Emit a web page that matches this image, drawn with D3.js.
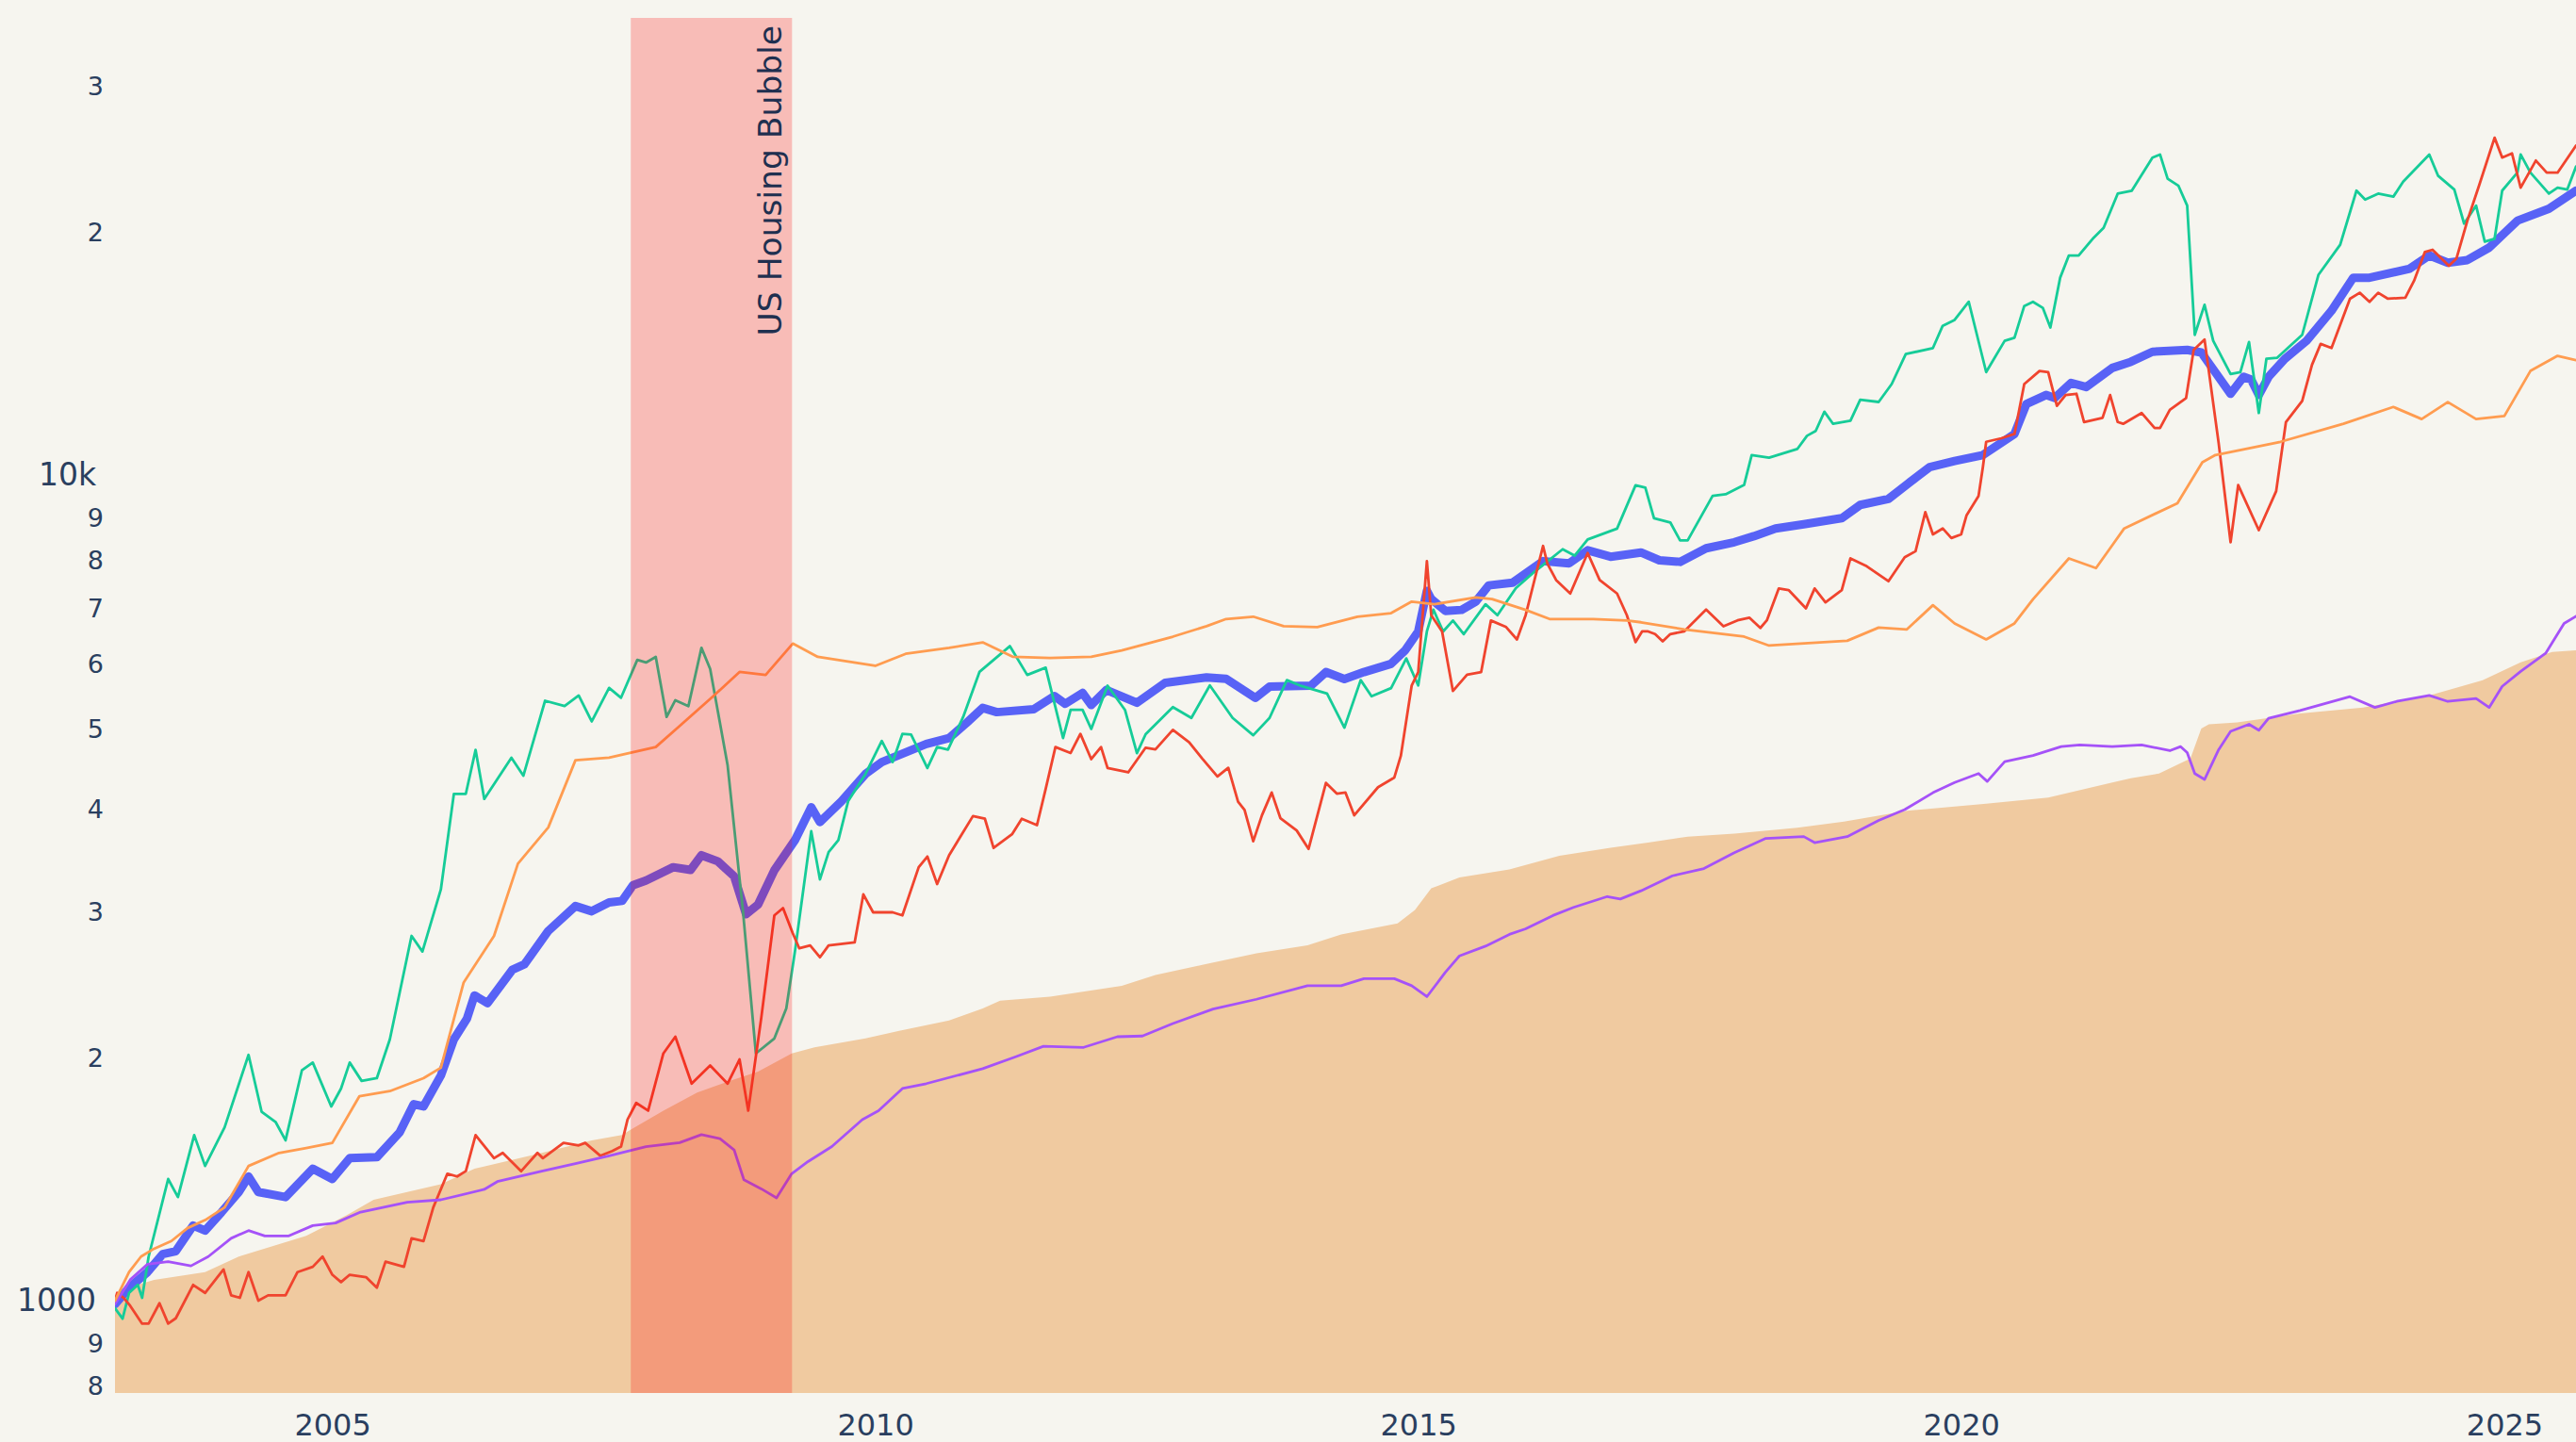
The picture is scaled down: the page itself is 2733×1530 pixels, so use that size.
<!DOCTYPE html>
<html>
<head>
<meta charset="utf-8">
<script src="https://cdn.jsdelivr.net/npm/d3@7"></script>
<style>
  html, body { margin: 0; padding: 0; background: #F6F5EF; }
  svg { display: block; }
  text { font-family: "DejaVu Sans", Verdana, sans-serif; fill: #2a3f5f; }
</style>
</head>
<body>
<svg id="chart" width="2733" height="1530"></svg>
<script>
// ---------------- DATA (decimal years, values) ----------------
const xTickYears = [2005, 2010, 2015, 2020, 2025];
const yTickValues = [800, 900, 1000, 2000, 3000, 4000, 5000, 6000, 7000, 8000, 9000, 10000, 20000, 30000];
const yTickLabels = ["8", "9", "1000", "2", "3", "4", "5", "6", "7", "8", "9", "10k", "2", "3"];

const bandStart = 2007.75, bandEnd = 2009.233;
const bandLabel = "US Housing Bubble";

const areaYears = [2003.0,2003.15,2003.36,2003.83,2004.14,2004.76,2005.13,2005.38,2006.0,2006.31,2006.93,2007.39,2007.67,2007.74,2008.05,2008.36,2008.67,2008.92,2009.23,2009.44,2009.91,2010.22,2010.68,2010.99,2011.15,2011.61,2012.27,2012.58,2013.05,2013.51,2013.98,2014.29,2014.81,2014.97,2015.12,2015.38,2015.84,2016.3,2016.77,2017.13,2017.48,2017.91,2018.49,2018.92,2019.5,2020.23,2020.8,2021.39,2021.56,2021.82,2022.11,2022.21,2022.28,2022.54,2023.12,2023.7,2024.27,2024.8,2025.15,2025.44,2025.66];
const areaValues = [985,1040,1060,1083,1131,1198,1269,1325,1384,1445,1510,1564,1587,1608,1699,1787,1848,1895,1993,2027,2078,2123,2185,2259,2309,2335,2407,2481,2558,2635,2695,2778,2864,2973,3158,3255,3330,3458,3537,3590,3649,3680,3741,3804,3921,4000,4069,4243,4293,4351,4536,4934,4991,5017,5144,5231,5391,5642,5934,6105,6134];

const blueYears = [2003.0,2003.13,2003.3,2003.44,2003.56,2003.72,2003.83,2003.98,2004.14,2004.23,2004.32,2004.57,2004.82,2005.0,2005.16,2005.41,2005.62,2005.75,2005.84,2006.0,2006.12,2006.24,2006.31,2006.43,2006.66,2006.77,2006.99,2007.24,2007.39,2007.55,2007.67,2007.77,2007.89,2008.14,2008.3,2008.4,2008.55,2008.7,2008.81,2008.92,2009.07,2009.26,2009.41,2009.49,2009.69,2009.91,2010.06,2010.47,2010.68,2010.84,2010.99,2011.12,2011.46,2011.65,2011.75,2011.91,2011.99,2012.13,2012.27,2012.41,2012.67,2013.05,2013.23,2013.5,2013.63,2014.01,2014.15,2014.32,2014.5,2014.75,2014.88,2015.0,2015.08,2015.12,2015.25,2015.4,2015.53,2015.65,2015.87,2016.15,2016.39,2016.56,2016.77,2017.05,2017.22,2017.41,2017.65,2017.91,2018.09,2018.29,2018.55,2018.9,2019.07,2019.33,2019.53,2019.71,2019.94,2020.2,2020.49,2020.6,2020.78,2020.86,2021.01,2021.15,2021.39,2021.56,2021.76,2022.08,2022.21,2022.48,2022.6,2022.67,2022.74,2022.83,2022.98,2023.18,2023.41,2023.61,2023.76,2024.13,2024.31,2024.48,2024.66,2024.86,2025.12,2025.41,2025.66];
const blueValues = [990,1037,1083,1139,1148,1233,1216,1279,1354,1414,1354,1335,1445,1404,1488,1492,1599,1730,1719,1874,2073,2196,2343,2293,2518,2555,2805,3006,2963,3037,3050,3186,3228,3350,3325,3464,3406,3267,2939,3019,3322,3613,3961,3800,4028,4345,4492,4724,4804,5009,5224,5163,5206,5401,5285,5447,5267,5493,5396,5300,5604,5689,5667,5373,5543,5558,5774,5663,5774,5908,6134,6467,7242,7079,6848,6867,7028,7353,7409,7868,7820,8110,7965,8060,7886,7852,8155,8294,8435,8619,8721,8869,9203,9358,9811,10228,10402,10576,11218,12199,12506,12402,12936,12785,13487,13716,14109,14183,14080,12549,13155,13052,12506,13155,13833,14546,15819,17346,17346,17788,18455,18087,18220,18863,20336,21027,22113];

const greenYears = [2003.0,2003.07,2003.13,2003.21,2003.25,2003.31,2003.49,2003.58,2003.73,2003.83,2004.01,2004.23,2004.35,2004.48,2004.57,2004.72,2004.82,2004.99,2005.08,2005.16,2005.27,2005.41,2005.53,2005.73,2005.83,2006.0,2006.12,2006.23,2006.32,2006.4,2006.65,2006.76,2006.96,2007.14,2007.27,2007.39,2007.55,2007.66,2007.81,2007.89,2007.98,2008.08,2008.16,2008.28,2008.4,2008.48,2008.64,2008.78,2008.9,2009.07,2009.18,2009.26,2009.41,2009.49,2009.57,2009.66,2009.75,2009.91,2010.06,2010.16,2010.25,2010.33,2010.48,2010.57,2010.67,2010.81,2010.96,2011.24,2011.4,2011.57,2011.73,2011.8,2011.91,2011.99,2012.14,2012.3,2012.41,2012.49,2012.74,2012.91,2013.08,2013.29,2013.48,2013.63,2013.79,2013.91,2014.16,2014.32,2014.47,2014.57,2014.75,2014.89,2015.0,2015.08,2015.14,2015.23,2015.32,2015.42,2015.62,2015.73,2015.9,2016.07,2016.33,2016.44,2016.56,2016.83,2017.0,2017.09,2017.17,2017.32,2017.41,2017.48,2017.71,2017.83,2018.0,2018.07,2018.23,2018.49,2018.58,2018.66,2018.74,2018.82,2018.98,2019.07,2019.24,2019.36,2019.49,2019.74,2019.83,2019.94,2020.07,2020.23,2020.4,2020.49,2020.58,2020.66,2020.75,2020.82,2020.91,2020.99,2021.08,2021.21,2021.31,2021.44,2021.57,2021.76,2021.83,2021.9,2022.0,2022.08,2022.15,2022.24,2022.32,2022.48,2022.57,2022.65,2022.74,2022.81,2022.91,2023.14,2023.29,2023.49,2023.64,2023.72,2023.84,2023.98,2024.07,2024.31,2024.39,2024.54,2024.63,2024.74,2024.82,2024.91,2024.98,2025.12,2025.15,2025.24,2025.41,2025.49,2025.58,2025.66];
const greenValues = [979,951,1022,1045,1008,1131,1404,1335,1587,1456,1622,1985,1694,1645,1564,1901,1943,1719,1807,1943,1846,1860,2073,2766,2648,3149,4111,4111,4647,4053,4547,4324,5330,5253,5408,5031,5525,5375,5974,5930,6024,5095,5338,5250,6177,5825,4455,2979,1993,2078,2259,2650,3704,3239,3494,3613,4028,4345,4764,4492,4860,4850,4418,4684,4650,5095,5776,6207,5728,5846,4804,5196,5196,4927,5559,5196,4605,4855,5236,5080,5562,5080,4841,5080,5646,5562,5437,4945,5646,5396,5521,5998,5562,6467,6871,6467,6667,6419,6976,6767,7297,7635,8133,7988,8357,8615,9721,9656,8869,8765,8337,8337,9438,9480,9730,10576,10500,10755,11161,11311,11934,11539,11640,12339,12265,12892,14017,14256,15168,15421,16218,13331,14546,14667,16028,16218,15948,15095,17346,18455,18455,19337,19929,21929,22113,24250,24457,22864,22410,21207,14791,16083,14546,13261,13331,14494,11893,13833,13874,14791,17491,19019,22113,21566,21929,21746,22675,24457,23060,22183,20170,21207,19177,19337,22113,23252,24457,23252,21929,22297,22183,23646];

const redYears = [2003.0,2003.02,2003.08,2003.14,2003.25,2003.31,2003.41,2003.49,2003.56,2003.72,2003.83,2004.0,2004.07,2004.15,2004.23,2004.32,2004.41,2004.57,2004.68,2004.82,2004.91,2005.0,2005.08,2005.16,2005.31,2005.41,2005.49,2005.66,2005.73,2005.84,2005.93,2006.06,2006.15,2006.23,2006.32,2006.49,2006.57,2006.74,2006.89,2006.94,2007.13,2007.27,2007.33,2007.47,2007.58,2007.66,2007.72,2007.8,2007.91,2008.05,2008.16,2008.31,2008.48,2008.64,2008.75,2008.83,2008.95,2009.07,2009.15,2009.24,2009.3,2009.4,2009.49,2009.57,2009.81,2009.89,2009.98,2010.16,2010.25,2010.4,2010.48,2010.57,2010.68,2010.9,2011.01,2011.09,2011.26,2011.35,2011.49,2011.57,2011.66,2011.8,2011.89,2011.99,2012.08,2012.14,2012.33,2012.49,2012.58,2012.74,2012.89,2013.01,2013.15,2013.25,2013.34,2013.4,2013.48,2013.56,2013.65,2013.73,2013.88,2013.99,2014.15,2014.25,2014.33,2014.41,2014.63,2014.78,2014.84,2014.94,2015.0,2015.08,2015.12,2015.22,2015.32,2015.45,2015.58,2015.67,2015.81,2015.91,2015.99,2016.15,2016.19,2016.27,2016.4,2016.56,2016.67,2016.83,2016.92,2017.0,2017.06,2017.11,2017.18,2017.25,2017.32,2017.45,2017.65,2017.81,2017.94,2018.05,2018.15,2018.21,2018.32,2018.41,2018.57,2018.65,2018.75,2018.9,2018.98,2019.13,2019.33,2019.48,2019.58,2019.67,2019.74,2019.83,2019.91,2020.0,2020.05,2020.16,2020.2,2020.23,2020.37,2020.49,2020.58,2020.72,2020.8,2020.88,2020.96,2021.06,2021.13,2021.3,2021.37,2021.44,2021.49,2021.66,2021.78,2021.83,2021.92,2022.07,2022.14,2022.24,2022.37,2022.48,2022.55,2022.74,2022.9,2022.99,2023.14,2023.23,2023.31,2023.41,2023.58,2023.67,2023.76,2023.84,2023.93,2024.09,2024.17,2024.27,2024.34,2024.49,2024.56,2024.66,2024.77,2024.91,2024.98,2025.07,2025.15,2025.29,2025.39,2025.49,2025.66];
const redValues = [1000,1022,1008,986,938,938,993,938,952,1045,1022,1091,1015,1008,1083,1000,1015,1015,1083,1099,1131,1075,1053,1075,1068,1037,1115,1099,1190,1181,1297,1425,1414,1435,1587,1488,1510,1435,1510,1488,1553,1542,1553,1498,1518,1537,1657,1736,1699,1993,2088,1832,1927,1832,1960,1699,2203,2929,2989,2786,2672,2694,2606,2694,2716,3106,2954,2954,2929,3350,3452,3197,3464,3864,3835,3535,3673,3835,3767,4167,4684,4607,4860,4529,4684,4418,4365,4676,4654,4914,4747,4536,4315,4421,4021,3931,3602,3872,4126,3842,3712,3526,4239,4114,4126,3872,4188,4303,4571,5562,5774,7868,6767,6467,5477,5732,5774,6667,6546,6324,6767,8208,7810,7464,7188,8047,7464,7188,6767,6277,6467,6470,6419,6291,6419,6470,6874,6559,6670,6719,6530,6670,7291,7258,6898,7291,7015,7258,7928,7756,7439,7954,8088,9020,8477,8619,8390,8477,8943,9438,10228,10975,11084,11218,12892,13373,13331,12134,12506,12549,11597,11733,12506,11597,11539,11893,11405,11405,11995,12402,14183,14595,10937,8294,9730,8578,9564,11597,12298,13601,14421,14256,16357,16632,16218,16632,16357,16403,17198,18638,18750,17934,18303,20336,22483,25630,24250,24536,22297,24050,23252,23252,25076];

const orangeYears = [2003.0,2003.13,2003.24,2003.36,2003.52,2003.67,2003.83,2004.01,2004.23,2004.51,2004.76,2005.0,2005.25,2005.53,2005.84,2006.0,2006.21,2006.49,2006.71,2006.99,2007.24,2007.55,2007.76,2007.98,2008.2,2008.51,2008.75,2008.99,2009.24,2009.47,2010.0,2010.28,2010.68,2010.99,2011.27,2011.61,2011.99,2012.27,2012.74,2013.05,2013.23,2013.48,2013.76,2014.07,2014.44,2014.75,2014.94,2015.15,2015.53,2015.68,2015.99,2016.21,2016.61,2016.92,2017.05,2017.45,2018.0,2018.23,2018.95,2019.24,2019.5,2019.74,2019.94,2020.23,2020.49,2020.66,2020.99,2021.24,2021.39,2021.5,2021.99,2022.22,2022.34,2022.94,2023.52,2023.98,2024.24,2024.48,2024.74,2025.0,2025.24,2025.49,2025.66];
const orangeValues = [1000,1083,1131,1156,1181,1225,1252,1297,1456,1510,1531,1553,1769,1794,1860,1915,2429,2766,3384,3744,4515,4547,4613,4684,4968,5401,5776,5728,6252,6024,5875,6076,6177,6273,6024,6004,6024,6134,6373,6563,6695,6739,6563,6546,6739,6805,7028,6976,7112,7079,6867,6695,6695,6667,6634,6504,6374,6217,6301,6537,6504,6958,6613,6324,6613,7074,7928,7716,8226,8619,9247,10366,10576,10975,11539,12095,11695,12262,11695,11795,13373,13947,13784];

const purpleYears = [2003.0,2003.14,2003.3,2003.49,2003.7,2003.86,2004.07,2004.23,2004.38,2004.6,2004.82,2005.03,2005.25,2005.69,2006.0,2006.4,2006.52,2006.93,2007.24,2007.55,2007.89,2008.2,2008.4,2008.57,2008.7,2008.79,2008.95,2009.09,2009.23,2009.38,2009.6,2009.88,2010.03,2010.25,2010.47,2010.99,2011.3,2011.55,2011.92,2012.23,2012.46,2012.74,2013.11,2013.51,2013.98,2014.29,2014.5,2014.78,2014.94,2015.08,2015.25,2015.38,2015.62,2015.84,2015.99,2016.24,2016.43,2016.74,2016.86,2017.05,2017.34,2017.63,2017.91,2018.2,2018.55,2018.65,2018.95,2019.24,2019.48,2019.74,2019.94,2020.16,2020.24,2020.4,2020.66,2020.92,2021.09,2021.39,2021.66,2021.92,2022.02,2022.08,2022.15,2022.24,2022.37,2022.48,2022.65,2022.74,2022.83,2023.12,2023.58,2023.81,2024.01,2024.31,2024.48,2024.74,2024.86,2024.98,2025.15,2025.38,2025.55,2025.66];
const purpleValues = [990,1060,1107,1115,1102,1131,1190,1216,1198,1198,1233,1242,1279,1316,1325,1364,1394,1435,1466,1498,1537,1554,1589,1571,1523,1401,1366,1332,1425,1474,1537,1657,1699,1807,1832,1910,1976,2033,2027,2088,2092,2166,2256,2318,2407,2407,2455,2455,2407,2335,2499,2616,2688,2778,2821,2928,2995,3087,3066,3137,3271,3338,3488,3631,3649,3588,3649,3817,3934,4124,4243,4351,4256,4498,4575,4690,4713,4690,4713,4637,4690,4613,4351,4279,4650,4893,4991,4909,5076,5188,5391,5231,5320,5409,5320,5364,5231,5548,5785,6084,6613,6747];

// ---------------- LAYOUT ----------------
const W = 2733, H = 1530;
const plot = { left: 122, right: 2733, top: 19, bottom: 1478 };

function toDate(y) {
  const yr = Math.floor(y);
  const s = Date.UTC(yr, 0, 1), e = Date.UTC(yr + 1, 0, 1);
  return new Date(s + (y - yr) * (e - s));
}

const x = d3.scaleUtc().domain([toDate(2003.0), toDate(2025.66)]).range([plot.left, plot.right]);
const y = d3.scaleLog().domain([773, 35800]).range([plot.bottom, plot.top]);

const svg = d3.select("#chart");
svg.append("rect").attr("width", W).attr("height", H).attr("fill", "#F6F5EF");

svg.append("clipPath").attr("id", "clip").append("rect")
  .attr("x", plot.left).attr("y", plot.top)
  .attr("width", plot.right - plot.left).attr("height", plot.bottom - plot.top);

const g = svg.append("g").attr("clip-path", "url(#clip)");

function zip(xs, vs) { return xs.map((v, i) => ({ d: toDate(v), v: vs[i] })); }

// area
const areaGen = d3.area().x(p => x(p.d)).y0(plot.bottom).y1(p => y(p.v));
g.append("path").datum(zip(areaYears, areaValues))
  .attr("d", areaGen).attr("fill", "#F0CAA0");

const lineGen = d3.line().x(p => x(p.d)).y(p => y(p.v));
const series = [
  { xs: blueYears, vs: blueValues, color: "#5862F6", w: 9 },
  { xs: greenYears, vs: greenValues, color: "#16CC98", w: 2.8 },
  { xs: redYears, vs: redValues, color: "#F0442E", w: 2.8 },
  { xs: purpleYears, vs: purpleValues, color: "#A552F8", w: 2.8 },
  { xs: orangeYears, vs: orangeValues, color: "#FF9C50", w: 2.8 }
];
series.forEach(s => {
  g.append("path").datum(zip(s.xs, s.vs))
    .attr("d", lineGen).attr("fill", "none")
    .attr("stroke", s.color).attr("stroke-width", s.w)
    .attr("stroke-linejoin", "round").attr("stroke-linecap", "round");
});

// housing bubble band (drawn above the traces)
svg.append("rect")
  .attr("x", x(toDate(bandStart))).attr("y", plot.top)
  .attr("width", x(toDate(bandEnd)) - x(toDate(bandStart)))
  .attr("height", plot.bottom - plot.top)
  .attr("fill", "#FF0000").attr("opacity", 0.23);

svg.append("text")
  .attr("transform", `translate(${x(toDate(bandEnd)) - 11},27) rotate(-90)`)
  .attr("text-anchor", "end")
  .style("font-size", "34.5px")
  .style("fill", "#1f3050")
  .text(bandLabel);

// x axis
const xAxis = d3.axisBottom(x)
  .tickValues(xTickYears.map(v => toDate(v)))
  .tickFormat(d3.utcFormat("%Y"))
  .tickSize(0).tickPadding(22);
const gx = svg.append("g").attr("transform", `translate(0,${plot.bottom})`).call(xAxis);
gx.select(".domain").remove();
gx.selectAll("text").style("font-size", "32px").style("fill", "#2a3f5f")
  .style("font-family", '"DejaVu Sans", Verdana, sans-serif');

// y axis
const yAxis = d3.axisLeft(y)
  .tickValues(yTickValues)
  .tickFormat((d, i) => yTickLabels[i])
  .tickSize(0).tickPadding(12);
const gy = svg.append("g").attr("transform", `translate(${plot.left},0)`).call(yAxis);
gy.select(".domain").remove();
gy.selectAll("text")
  .style("fill", "#2a3f5f")
  .style("font-family", '"DejaVu Sans", Verdana, sans-serif')
  .each(function(d) {
    const major = (d === 1000 || d === 10000);
    d3.select(this)
      .style("font-size", major ? "33px" : "27px")
      .attr("x", major ? -20 : -12)
      .attr("y", major ? 0 : 6);
  });
</script>
</body>
</html>
